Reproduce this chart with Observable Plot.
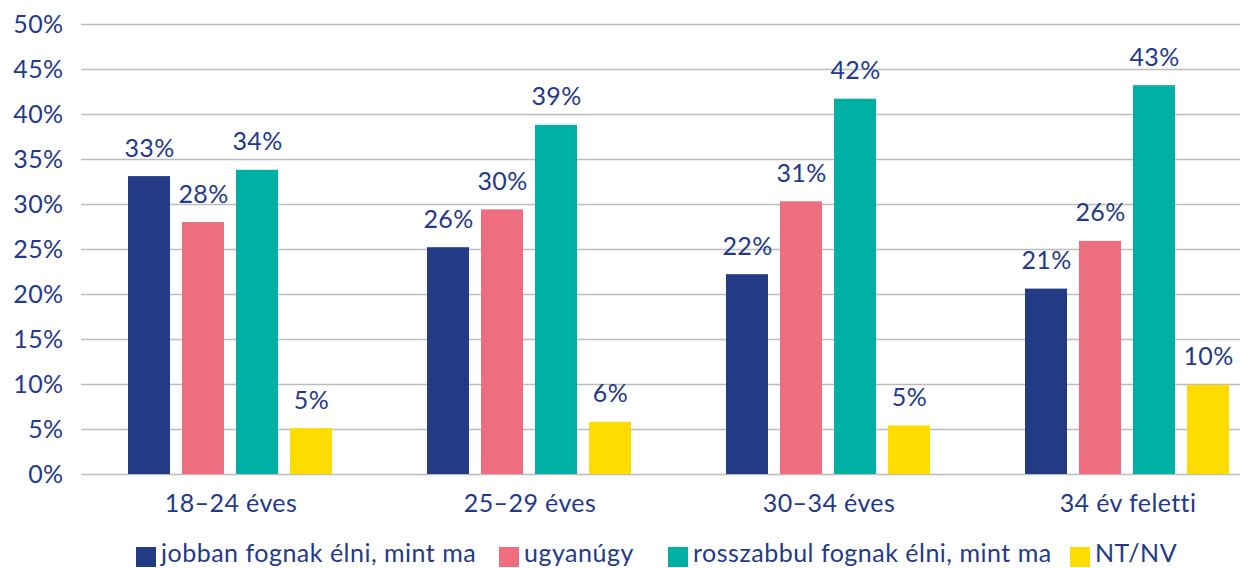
<!DOCTYPE html>
<html>
<head>
<meta charset="utf-8">
<script src="https://cdn.jsdelivr.net/npm/d3@7"></script>
<script src="https://cdn.jsdelivr.net/npm/@observablehq/plot@0.6"></script>
<style>
  html, body { margin: 0; padding: 0; background: #fff; }
  #wrap { position: relative; width: 1240px; height: 568px; overflow: hidden; font-family: Lato, "Open Sans", sans-serif; }
  #chart { position: absolute; left: 0; top: 0; width: 1280px; }
  #chart svg { max-width: none !important; width: 1280px; height: 530px; letter-spacing: 0.4px; }
  #legend { position: absolute; left: 0; top: 0; width: 1240px; height: 568px; pointer-events: none; }
  .item { position: absolute; top: 537px; display: flex; align-items: center; height: 30px; font-size: 25px; letter-spacing: 0.5px; color: #24398a; white-space: nowrap; }
  .sw { width: 20px; height: 20px; margin-right: 5px; margin-top: 9px; }
</style>
</head>
<body>
<div id="wrap">
  <div id="chart"></div>
  <div id="legend"></div>
</div>
<script>
const categories = ["18–24 éves", "25–29 éves", "30–34 éves", "34 év feletti"];
const seriesNames = ["jobban fognak élni, mint ma", "ugyanúgy", "rosszabbul fognak élni, mint ma", "NT/NV"];
const seriesColors = ["#233b85", "#ee6d7f", "#00b0a5", "#ffdc00"];
const jobban = [33.1, 25.2, 22.2, 20.6];
const ugyanugy = [28.0, 29.4, 30.3, 25.9];
const rosszabbul = [33.8, 38.8, 41.7, 43.2];
const ntnv = [5.1, 5.8, 5.4, 9.9];
const labelsJobban = ["33%", "26%", "22%", "21%"];
const labelsUgyanugy = ["28%", "30%", "31%", "26%"];
const labelsRosszabbul = ["34%", "39%", "42%", "43%"];
const labelsNtnv = ["5%", "6%", "5%", "10%"];
const yTicks = [0, 5, 10, 15, 20, 25, 30, 35, 40, 45, 50];

const seriesValues = [jobban, ugyanugy, rosszabbul, ntnv];
const seriesLabels = [labelsJobban, labelsUgyanugy, labelsRosszabbul, labelsNtnv];
const data = [];
categories.forEach((c, i) => {
  seriesNames.forEach((s, j) => {
    data.push({group: c, series: s, value: seriesValues[j][i], label: seriesLabels[j][i]});
  });
});

const textColor = "#24398a";
const chart = Plot.plot({
  width: 1280,
  height: 530,
  marginLeft: 80,
  marginRight: 2,
  marginTop: 24,
  marginBottom: 56,
  style: {fontFamily: "Lato, 'Open Sans', sans-serif", fontSize: "25px", color: textColor, background: "#fff"},
  fx: {domain: categories, paddingInner: 0, paddingOuter: 0, label: null},
  x: {domain: seriesNames, paddingInner: 0.218, paddingOuter: 0.8317, axis: null},
  y: {domain: [0, 50], label: null},
  color: {domain: seriesNames, range: seriesColors},
  marks: [
    Plot.ruleY(yTicks, {stroke: "#bcbcbc", strokeWidth: 1.5}),
    Plot.axisY({ticks: yTicks, tickFormat: d => d + "%", tickSize: 0, tickPadding: 18, fontSize: 25, fill: textColor, label: null}),
    Plot.axisFx({anchor: "bottom", tickSize: 0, tickPadding: 20, fontSize: 25, fill: textColor, label: null}),
    Plot.barY(data, {fx: "group", x: "series", y: "value", fill: "series"}),
    Plot.text(data, {fx: "group", x: "series", y: "value", text: "label", dy: -28, fontSize: 25, fill: textColor, lineAnchor: "middle"})
  ]
});
document.getElementById("chart").appendChild(chart);

const legendX = [136, 499, 668, 1070];
const legend = document.getElementById("legend");
seriesNames.forEach((s, j) => {
  const it = document.createElement("div");
  it.className = "item";
  it.style.left = legendX[j] + "px";
  const sw = document.createElement("span");
  sw.className = "sw";
  sw.style.background = seriesColors[j];
  const t = document.createElement("span");
  t.textContent = s;
  it.appendChild(sw);
  it.appendChild(t);
  legend.appendChild(it);
});
</script>
</body>
</html>
